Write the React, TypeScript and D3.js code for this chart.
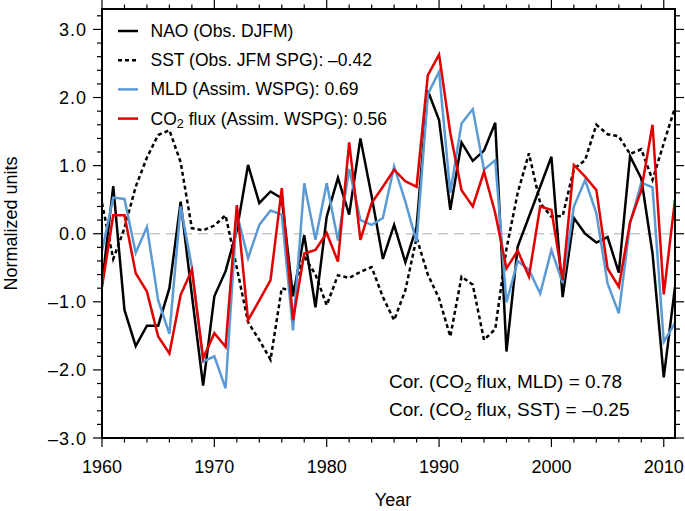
import React from 'react';
import * as d3 from 'd3';

const years = d3.range(1960, 2012);

const nao = [
  -0.75, 0.70, -1.12, -1.65, -1.35, -1.35, -0.80, 0.47, -0.90, -2.23,
  -0.92, -0.55, 0.05, 1.01, 0.45, 0.62, 0.52, -0.92, -0.02, -1.08,
  0.25, 0.82, 0.28, 1.40, 0.55, -0.37, 0.13, -0.42, 0.10, 2.10,
  1.67, 0.35, 1.34, 1.07, 1.22, 1.63, -1.73, -0.19, 0.25, 0.69,
  1.13, -0.93, 0.23, 0.00, -0.13, -0.05, -0.57, 1.14, 0.81, -0.29,
  -2.11, -0.78,
];

const sst = [
  0.45, -0.37, 0.08, 0.69, 1.12, 1.45, 1.52, 1.05, 0.08, 0.05,
  0.12, 0.27, -0.50, -1.30, -1.56, -1.85, -0.80, -0.85, -0.33, -0.60,
  -1.05, -0.61, -0.65, -0.56, -0.49, -0.93, -1.27, -0.83, -0.06, -0.60,
  -0.95, -1.51, -0.63, -0.75, -1.56, -1.40, -0.22, 0.60, 1.18, 0.45,
  0.25, 0.26, 0.95, 1.08, 1.60, 1.46, 1.43, 1.17, 1.24, 0.79,
  1.33, 1.85,
];

const mld = [
  -0.25, 0.53, 0.51, -0.28, 0.10, -0.98, -1.47, 0.40, -0.49, -1.88,
  -1.80, -2.27, 0.30, -0.36, 0.13, 0.34, 0.28, -1.42, 0.74, -0.09,
  0.74, -0.10, 0.95, 0.20, 0.13, 0.23, 0.99, 0.47, -0.12, 2.05,
  2.38, 0.60, 1.62, 1.83, 0.94, 1.08, -1.01, -0.40, -0.53, -0.88,
  -0.24, -0.72, 0.40, 0.79, 0.30, -0.73, -1.17, 0.15, 0.75, 0.68,
  -1.59, -1.31,
];

const co2 = [
  -0.78, 0.27, 0.27, -0.58, -0.85, -1.51, -1.76, -0.90, -0.53, -1.83,
  -1.46, -1.66, 0.42, -1.27, -0.98, -0.68, 0.67, -1.27, -0.29, -0.24,
  0.01, -0.41, 1.34, -0.09, 0.45, 0.69, 0.94, 0.77, 0.69, 2.33,
  2.63, 1.48, 0.64, 0.40, 0.91, 0.30, -0.51, -0.25, -0.63, 0.40,
  0.35, -0.68, 1.01, 0.84, 0.64, -0.51, -0.78, 0.17, 0.64, 1.60,
  -0.89, 0.50,
];

const xTicks = [1960, 1970, 1980, 1990, 2000, 2010];
const yTicks = [-3, -2, -1, 0, 1, 2, 3];

const series = [
  { name: 'NAO (Obs. DJFM)', values: nao, color: '#000000', dash: null },
  { name: 'SST (Obs. JFM SPG): \u20130.42', values: sst, color: '#000000', dash: '4,3' },
  { name: 'MLD (Assim. WSPG): 0.69', values: mld, color: '#5b9bd5', dash: null },
  { name: 'CO2 flux (Assim. WSPG): 0.56', values: co2, color: '#e00000', dash: null },
];

const width = 685;
const height = 511;
const margin = { top: 9, right: 10, bottom: 73, left: 102 };
const font = '"Liberation Sans", Arial, Helvetica, sans-serif';

const fmt = (v: number) => (v < 0 ? '\u2013' : '') + Math.abs(v).toFixed(1);

const Sub2 = () => (
  <tspan baselineShift="-25%" fontSize="0.72em">2</tspan>
);

const LegendLabel = ({ text }: { text: string }) => {
  if (text.startsWith('CO2')) {
    return (
      <>
        CO<Sub2 /><tspan>{text.slice(3)}</tspan>
      </>
    );
  }
  return <>{text}</>;
};

const App = () => {
  const innerWidth = width - margin.left - margin.right;
  const innerHeight = height - margin.top - margin.bottom;
  const x0 = margin.left;
  const x1 = margin.left + innerWidth;
  const y0 = margin.top;
  const y1 = margin.top + innerHeight;

  const xScale = d3.scaleLinear().domain([1960, 2011]).range([x0, x1]);
  const yScale = d3.scaleLinear().domain([-3, 3.3]).range([y1, y0]);

  const line = d3
    .line<number>()
    .x((_, i) => xScale(years[i]))
    .y(d => yScale(d));

  const xMinor = d3.range(1960, 2012, 2);
  const yMinor = d3.range(-30, 33, 2).map(v => v / 10);

  return (
    <svg
      width={width}
      height={height}
      style={{ position: 'absolute', left: 0, top: 0, background: '#fff' }}
      fontFamily={font}
    >
      <defs>
        <clipPath id="plot">
          <rect x={x0} y={y0} width={innerWidth} height={innerHeight} />
        </clipPath>
      </defs>

      {/* zero line */}
      <line
        x1={x0}
        x2={x1}
        y1={yScale(0)}
        y2={yScale(0)}
        stroke="#c8c8c8"
        strokeWidth={1.5}
        strokeDasharray="10,6"
      />

      <g clipPath="url(#plot)">
        {series.map(s => (
          <path
            key={s.name}
            d={line(s.values) || ''}
            fill="none"
            stroke={s.color}
            strokeWidth={2.5}
            strokeDasharray={s.dash || undefined}
            strokeLinejoin="miter"
          />
        ))}
      </g>

      {/* frame */}
      <rect x={x0} y={y0} width={innerWidth} height={innerHeight} fill="none" stroke="#000" strokeWidth={2} />

      {/* ticks on all four sides, pointing out */}
      {xMinor.map(v => {
        const major = v % 10 === 0;
        const len = major ? 9 : 4.5;
        return (
          <g key={'x' + v} stroke="#000" strokeWidth={1.2}>
            <line x1={xScale(v)} x2={xScale(v)} y1={y1} y2={y1 + len} />
            <line x1={xScale(v)} x2={xScale(v)} y1={y0} y2={y0 - len} />
          </g>
        );
      })}
      {yMinor.map(v => {
        const major = Math.abs(v - Math.round(v)) < 1e-6;
        const len = major ? 9 : 5;
        return (
          <g key={'y' + v} stroke="#000" strokeWidth={1.2}>
            <line x1={x0} x2={x0 - len} y1={yScale(v)} y2={yScale(v)} />
            <line x1={x1} x2={x1 + len} y1={yScale(v)} y2={yScale(v)} />
          </g>
        );
      })}

      {xTicks.map(v => (
        <text key={'xl' + v} x={xScale(v)} y={473} textAnchor="middle" fontSize={18}>
          {v}
        </text>
      ))}
      {yTicks.map(v => (
        <text key={'yl' + v} x={87} y={yScale(v) + 6.5} textAnchor="end" fontSize={18} letterSpacing={1}>
          {fmt(v)}
        </text>
      ))}

      <text x={393} y={506} textAnchor="middle" fontSize={18}>Year</text>
      <text
        transform={`translate(17, ${(y0 + y1) / 2}) rotate(-90)`}
        textAnchor="middle"
        fontSize={18}
      >
        Normalized units
      </text>

      {/* legend */}
      {series.map((s, i) => {
        const cy = 31 + i * 29.2;
        return (
          <g key={'lg' + i}>
            <line
              x1={118}
              x2={138}
              y1={cy}
              y2={cy}
              stroke={s.color}
              strokeWidth={2.5}
              strokeDasharray={s.dash || undefined}
            />
            <text x={150.5} y={cy + 6} fontSize={17.5}>
              <LegendLabel text={s.name} />
            </text>
          </g>
        );
      })}

      <text x={389} y={388} fontSize={19}>
        Cor. (CO<Sub2 /><tspan> flux, MLD) = 0.78</tspan>
      </text>
      <text x={389} y={416} fontSize={19}>
        Cor. (CO<Sub2 /><tspan> flux, SST) = {'\u2013'}0.25</tspan>
      </text>
    </svg>
  );
};

export default App;
